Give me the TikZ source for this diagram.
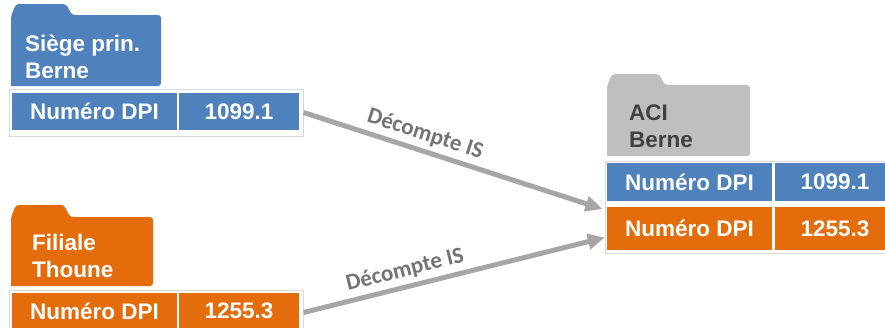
\documentclass[tikz,border=0pt]{standalone}
\usepackage{fontspec}
\setmainfont{Liberation Sans}
\newfontfamily\labelfont{Carlito}
\usepackage{tikz}
\usetikzlibrary{arrows.meta}
\usepackage{xcolor}
\definecolor{dpiblue}{HTML}{4F81BD}
\definecolor{dpiorange}{HTML}{E46C0A}
\definecolor{aciGray}{HTML}{BFBFBF}
\definecolor{arrowgray}{HTML}{A6A6A6}

\begin{document}
\begin{tikzpicture}[x=1pt,y=-1pt,>={Triangle[length=17pt,width=15pt]},
  font=\fontsize{22.5}{27}\selectfont\bfseries,
  cell/.style={text=white,inner sep=0pt,minimum height=37pt},
  rowbox/.style={draw=black!15,fill=white,line width=1pt,inner sep=0pt},
  foldertext/.style={align=left,anchor=north west,inner sep=0pt,text=white},
  flow/.style={->,draw=arrowgray,line width=5pt},
  flowlabel/.style={text=black!55,font=\labelfont\fontsize{23}{27}\selectfont\bfseries,sloped,above=1pt}]
\useasboundingbox (0,0) rectangle (885,327);
% dossiers
\fill[dpiblue,rounded corners=3pt] (11,86) -- (11,16) -- (16,4) -- (66,4) -- (72,15) -- (161,15) -- (161,86) [sharp corners] -- cycle;
\fill[dpiorange,rounded corners=3pt] (11,286) -- (11,217) -- (16,205) -- (64,205) -- (70,217) -- (153,217) -- (153,286) [sharp corners] -- cycle;
\fill[aciGray,rounded corners=3pt] (607,156) -- (607,86) -- (612,74) -- (659,74) -- (665,85) -- (750,85) -- (750,156) [sharp corners] -- cycle;
\node[foldertext] (siege) at (25,35) {Siège prin.\\Berne};
\node[foldertext] (filiale) at (32,234) {Filiale\\Thoune};
\node[foldertext,text=black!75] (aci) at (629,105) {ACI\\Berne};
% lignes DPI
\node[rowbox,minimum width=294pt,minimum height=47pt] (siegeRow) at (156,112.5) {};
\node[cell,fill=dpiblue,minimum width=165pt] (siegeNum) at (94.5,111.5) {Numéro DPI};
\node[cell,fill=dpiblue,minimum width=120pt] (siegeVal) at (239,111.5) {1099.1};
\node[rowbox,minimum width=294pt,minimum height=45pt] (filialeRow) at (156,312.5) {};
\node[cell,fill=dpiorange,minimum width=165pt] (filialeNum) at (94.5,311) {Numéro DPI};
\node[cell,fill=dpiorange,minimum width=120pt] (filialeVal) at (239,311) {1255.3};
\node[rowbox,minimum width=290pt,minimum height=92pt] (aciRow) at (750,207) {};
\node[cell,fill=dpiblue,minimum width=165pt,minimum height=38pt] (aciNumA) at (689.5,182) {Numéro DPI};
\node[cell,fill=dpiblue,minimum width=120pt,minimum height=38pt] (aciValA) at (835,182) {1099.1};
\node[cell,fill=dpiorange,minimum width=165pt,minimum height=43pt] (aciNumB) at (689.5,228.5) {Numéro DPI};
\node[cell,fill=dpiorange,minimum width=120pt,minimum height=43pt] (aciValB) at (835,228.5) {1255.3};
% decomptes
\draw[flow] (siegeRow.east) -- ([xshift=-2pt,yshift=-2pt]aciRow.west) node[flowlabel,pos=0.39] {Décompte IS};
\draw[flow] (filialeRow.east) -- ([xshift=-2pt,yshift=-9pt]aciNumB.west) node[flowlabel,pos=0.35] {Décompte IS};
\end{tikzpicture}
\end{document}
